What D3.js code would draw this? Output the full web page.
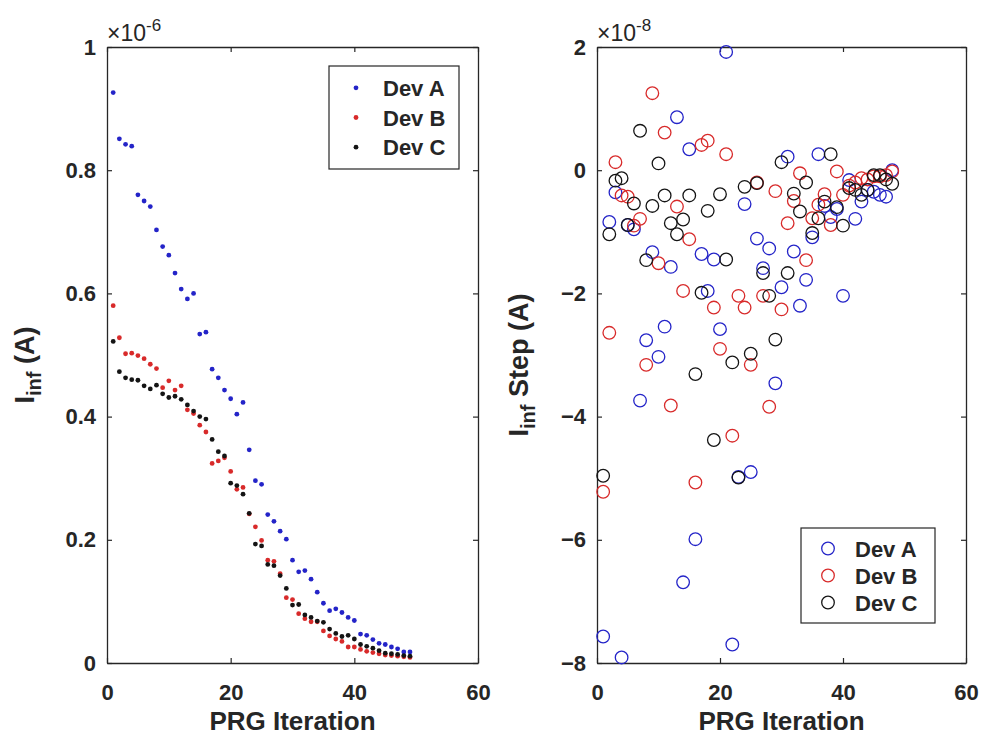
<!DOCTYPE html>
<html>
<head>
<meta charset="utf-8">
<script src="https://cdn.jsdelivr.net/npm/d3@7"></script>
<style>
  body { margin: 0; background: #fff; }
  svg text { font-family: "Liberation Sans", Arial, sans-serif; fill: #262626; }
</style>
</head>
<body>
<svg id="chart" width="985" height="751"></svg>
<script>
// iterations
const iter = d3.range(1, 50);
const iterStep = d3.range(1, 49);

// I_inf (x1e-6 A)
const devA = [0.926,0.851,0.842,0.839,0.760,0.750,0.741,0.703,0.676,0.662,0.633,0.607,0.591,0.600,0.534,0.537,0.477,0.463,0.443,0.429,
  0.404,0.423,0.346,0.296,0.290,0.241,0.230,0.214,0.201,0.167,0.148,0.150,0.136,0.115,0.097,0.085,0.088,0.082,0.074,0.069,
  0.047,0.045,0.038,0.032,0.030,0.026,0.023,0.018,0.018];
const devB = [0.580,0.528,0.502,0.503,0.499,0.494,0.485,0.478,0.447,0.458,0.443,0.450,0.411,0.405,0.386,0.375,0.324,0.328,0.333,0.311,
  0.282,0.285,0.242,0.221,0.199,0.167,0.165,0.145,0.106,0.103,0.080,0.072,0.067,0.067,0.052,0.044,0.039,0.035,0.026,0.026,
  0.022,0.019,0.017,0.015,0.013,0.012,0.011,0.010,0.009];
const devC = [0.522,0.473,0.463,0.460,0.459,0.450,0.445,0.451,0.437,0.431,0.433,0.428,0.419,0.409,0.400,0.396,0.363,0.343,0.336,0.292,
  0.288,0.274,0.243,0.193,0.190,0.160,0.158,0.142,0.121,0.094,0.095,0.078,0.074,0.068,0.066,0.055,0.048,0.043,0.045,0.039,
  0.030,0.027,0.024,0.020,0.016,0.015,0.014,0.012,0.011];

// I_inf step (x1e-8 A)
const stepA = [-7.57,-0.84,-0.36,-7.91,-0.89,-0.96,-3.74,-2.76,-1.33,-3.03,-2.54,-1.57,0.86,-6.69,0.34,-5.99,-1.36,-1.96,-1.45,-2.58,
  1.92,-7.70,-4.98,-0.55,-4.90,-1.11,-1.59,-1.27,-3.46,-1.90,0.22,-1.32,-2.20,-1.78,-1.09,0.26,-0.58,-0.76,-0.63,-2.04,
  -0.16,-0.79,-0.51,-0.32,-0.35,-0.40,-0.43,0.00];
const stepB = [-5.22,-2.64,0.13,-0.41,-0.43,-0.90,-0.79,-3.16,1.25,-1.51,0.61,-3.82,-0.59,-1.96,-1.12,-5.07,0.41,0.48,-2.23,-2.90,
  0.26,-4.31,-2.04,-2.23,-3.16,-0.20,-2.04,-3.84,-0.34,-2.26,-0.86,-0.50,-0.05,-1.46,-0.78,-0.56,-0.39,-0.89,-0.02,-0.40,
  -0.25,-0.20,-0.13,-0.15,-0.10,-0.10,-0.08,-0.02];
const stepC = [-4.96,-1.04,-0.17,-0.13,-0.89,-0.54,0.64,-1.46,-0.58,0.11,-0.41,-0.86,-1.04,-0.80,-0.41,-3.31,-1.99,-0.66,-4.38,-0.39,
  -1.45,-3.12,-4.99,-0.27,-2.98,-0.21,-1.67,-2.04,-2.75,0.13,-1.67,-0.38,-0.67,-0.20,-1.02,-0.78,-0.51,0.26,-0.60,-0.90,
  -0.29,-0.32,-0.40,-0.32,-0.08,-0.08,-0.15,-0.22];

const names = ["Dev A", "Dev B", "Dev C"];
const colors = ["#2424c8", "#d82a2a", "#141414"];
const xTicks = [0, 20, 40, 60];
const yTicksL = [0, 0.2, 0.4, 0.6, 0.8, 1];
const yTicksR = [-8, -6, -4, -2, 0, 2];

const svg = d3.select("#chart");
const axisColor = "#262626";

function drawFrame(x, y, xt, yt, yfmt) {
  const [x0, x1] = x.range();
  const [y0, y1] = y.range();
  const g = svg.append("g");
  g.append("g").attr("transform", `translate(0,${y0})`)
    .call(d3.axisBottom(x).tickValues(xt).tickSizeInner(-5).tickSizeOuter(0).tickPadding(21).tickFormat(d3.format("d")));
  g.append("g").attr("transform", `translate(0,${y1})`)
    .call(d3.axisTop(x).tickValues(xt).tickSizeInner(-5).tickSizeOuter(0).tickFormat(""));
  g.append("g").attr("transform", `translate(${x0},0)`)
    .call(d3.axisLeft(y).tickValues(yt).tickSizeInner(-5).tickSizeOuter(0).tickPadding(11).tickFormat(yfmt));
  g.append("g").attr("transform", `translate(${x1},0)`)
    .call(d3.axisRight(y).tickValues(yt).tickSizeInner(-5).tickSizeOuter(0).tickFormat(""));
  g.selectAll(".domain").attr("stroke", axisColor).attr("stroke-width", 1.3);
  g.selectAll(".tick line").attr("stroke", axisColor).attr("stroke-width", 1.2);
  g.selectAll(".tick text").attr("font-size", 22).attr("font-weight", "bold")
    .attr("fill", axisColor).attr("font-family", "Liberation Sans, Arial, sans-serif");
  return g;
}

function exponent(x0, y, power) {
  const t = svg.append("text").attr("x", x0).attr("y", y).attr("font-size", 23);
  t.append("tspan").text("\u00d710");
  t.append("tspan").attr("font-size", 17).attr("dy", -10).text(power);
}

// ---- left panel
const xL = d3.scaleLinear([0, 60], [107, 478]);
const yL = d3.scaleLinear([0, 1], [663, 47]);
drawFrame(xL, yL, xTicks, yTicksL, d => d3.format("")(+d.toFixed(1)));
exponent(107, 41, "-6");

[devA, devB, devC].forEach((s, i) => {
  svg.append("g").selectAll("circle").data(s).join("circle")
    .attr("cx", (d, j) => xL(iter[j])).attr("cy", d => yL(d))
    .attr("r", 2.4).attr("fill", colors[i]);
});

// ---- right panel
const xR = d3.scaleLinear([0, 60], [597, 966]);
const yR = d3.scaleLinear([-8, 2], [663, 47]);
drawFrame(xR, yR, xTicks, yTicksR, d3.format("d"));
exponent(597, 41, "-8");

[stepA, stepB, stepC].forEach((s, i) => {
  svg.append("g").selectAll("circle").data(s).join("circle")
    .attr("cx", (d, j) => xR(iterStep[j])).attr("cy", d => yR(d))
    .attr("r", 6.3).attr("fill", "none").attr("stroke", colors[i]).attr("stroke-width", 1.3);
});

// ---- axis labels
svg.append("text").attr("x", (107 + 478) / 2).attr("y", 730).attr("text-anchor", "middle")
  .attr("font-size", 26).attr("font-weight", "bold").text("PRG Iteration");
svg.append("text").attr("x", (597 + 966) / 2).attr("y", 730).attr("text-anchor", "middle")
  .attr("font-size", 26).attr("font-weight", "bold").text("PRG Iteration");

function ylabel(x, y, rest) {
  const t = svg.append("text").attr("transform", `translate(${x},${y}) rotate(-90)`)
    .attr("text-anchor", "middle").attr("font-size", 27).attr("font-weight", "bold");
  t.append("tspan").text("I");
  t.append("tspan").attr("font-size", 20).attr("dy", 7).text("inf");
  t.append("tspan").attr("dy", -7).text(rest);
}
ylabel(34, 365, " (A)");
ylabel(528, 365, " Step (A)");

// ---- legends
function legend(x, y, w, h, marker) {
  const g = svg.append("g").attr("transform", `translate(${x},${y})`);
  g.append("rect").attr("width", w).attr("height", h).attr("fill", "#fff")
    .attr("stroke", axisColor).attr("stroke-width", 1.2);
  const step = (h - 14) / 3;
  names.forEach((n, i) => {
    const cy = 7 + step * (i + 0.5);
    if (marker === "dot") {
      g.append("circle").attr("cx", 27).attr("cy", cy).attr("r", 2.4).attr("fill", colors[i]);
    } else {
      g.append("circle").attr("cx", 27).attr("cy", cy).attr("r", 6.3).attr("fill", "none")
        .attr("stroke", colors[i]).attr("stroke-width", 1.3);
    }
    g.append("text").attr("x", 54).attr("y", cy + 8).attr("font-size", 22).attr("font-weight", "bold")
      .attr("fill", "#000").text(n);
  });
}
legend(329, 66, 130, 103, "dot");
legend(801, 528, 134, 95, "circle");
</script>
</body>
</html>
